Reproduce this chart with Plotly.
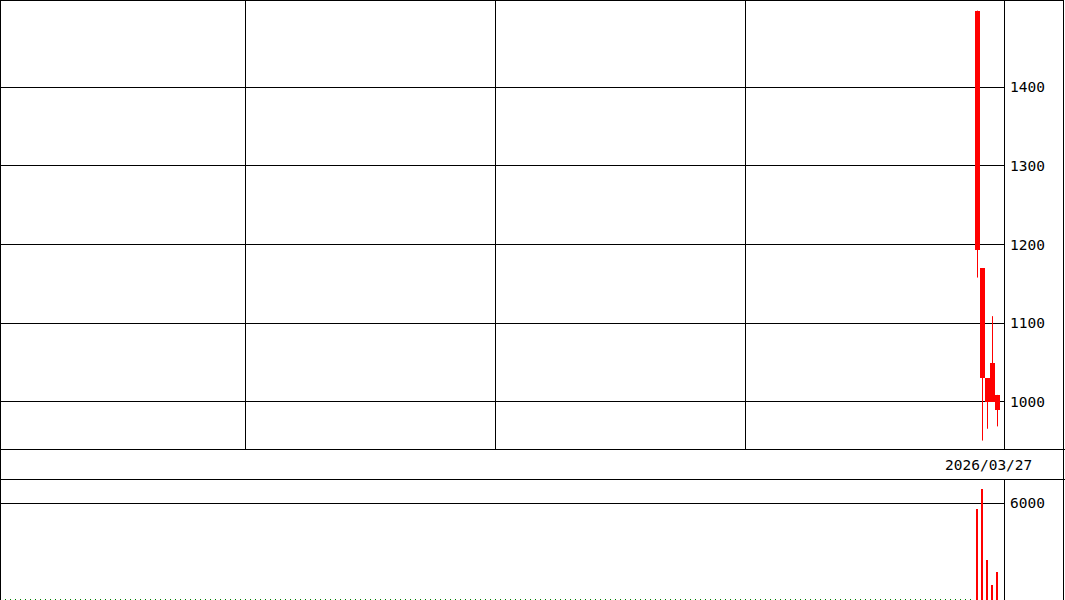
import plotly.graph_objects as go

# daily candles (last 5 sessions of a ~200 session window)
day_index = [195, 196, 197, 198, 199]
price_open = [1497, 1170, 1030, 1000, 1009]
price_high = [1497, 1170, 1030, 1109, 1009]
price_low = [1158, 951, 966, 1000, 969]
price_close = [1193, 1030, 1000, 1049, 990]
volume = [5630, 6870, 2470, 930, 1730]

# volume average: flat at zero before the first session
vol_avg_days = [-0.5, 194.5]
vol_avg = [0, 0]

month_breaks = [48.5, 98.5, 148.5]
price_ticks = [1000, 1100, 1200, 1300, 1400]
volume_ticks = [6000]
last_date = "2026/03/27"

W, H = 1065, 600
RED = "rgb(255,0,0)"
FONT = dict(family="DejaVu Sans Mono", size=14.5, color="black")

body_base = [min(o, c) for o, c in zip(price_open, price_close)]
body_size = [abs(o - c) for o, c in zip(price_open, price_close)]

wick_x, wick_y = [], []
for i, h, l in zip(day_index, price_high, price_low):
    wick_x += [i, i, None]
    wick_y += [l, h, None]

fig = go.Figure()
fig.add_trace(go.Scatter(
    x=wick_x, y=wick_y, mode="lines",
    line=dict(color=RED, width=1),
    xaxis="x", yaxis="y", showlegend=False, hoverinfo="skip",
))
fig.add_trace(go.Bar(
    x=day_index, y=body_size, base=body_base, width=0.95,
    marker=dict(color=RED, line=dict(width=0)),
    xaxis="x", yaxis="y", showlegend=False,
))
fig.add_trace(go.Scatter(
    x=vol_avg_days, y=vol_avg, mode="lines",
    line=dict(color="rgb(0,128,0)", width=2, dash="1px,4px"),
    xaxis="x2", yaxis="y2", showlegend=False, hoverinfo="skip",
))
fig.add_trace(go.Bar(
    x=day_index, y=volume, width=0.22,
    marker=dict(color=RED, line=dict(width=0)),
    xaxis="x2", yaxis="y2", showlegend=False,
))

px_x = lambda p: p / W
px_y = lambda p: 1 - p / H

xr = [-0.5, 200.5]
fig.update_layout(
    width=W, height=H,
    margin=dict(l=0, r=0, t=0, b=0),
    paper_bgcolor="white", plot_bgcolor="white",
    font=FONT, bargap=0, barmode="overlay",
    xaxis=dict(
        domain=[0, px_x(1005)], range=xr, tickvals=month_breaks,
        showticklabels=False, ticks="", showgrid=True,
        gridcolor="black", gridwidth=1, zeroline=False, showline=False,
    ),
    yaxis=dict(
        domain=[px_y(449), 1], range=[940.3, 1510.5], side="right",
        tickvals=price_ticks, ticks="", ticklabelstandoff=4,
        showgrid=True, gridcolor="black", gridwidth=1, zeroline=False,
        showline=False, tickfont=FONT,
    ),
    xaxis2=dict(
        domain=[0, px_x(1005)], range=xr, anchor="y2",
        showticklabels=False, ticks="", showgrid=False,
        zeroline=False, showline=False,
    ),
    yaxis2=dict(
        domain=[0, px_y(480)], range=[0, 7423], side="right", anchor="x2",
        tickvals=volume_ticks, ticks="", ticklabelstandoff=4,
        showgrid=True, gridcolor="black", gridwidth=1, zeroline=False,
        showline=False, tickfont=FONT,
    ),
)

line = dict(color="black", width=1)


def hline(y, x0=0.0, x1=1.0):
    return dict(type="line", xref="paper", yref="paper",
                x0=x0, x1=x1, y0=px_y(y), y1=px_y(y), line=line)


def vline(x, y0, y1):
    return dict(type="line", xref="paper", yref="paper",
                x0=px_x(x), x1=px_x(x), y0=px_y(y0), y1=px_y(y1), line=line)


fig.update_layout(shapes=[
    hline(0.5, 0, px_x(1064)),
    hline(449.5),
    hline(479.5),
    vline(0.5, 0, 600),
    vline(1063.5, 0, 600),
    vline(1004.5, 0, 449.5),
    vline(1004.5, 479.5, 600),
])

fig.add_annotation(
    text=last_date, xref="paper", yref="paper",
    x=px_x(1034), y=px_y(465), xanchor="right", yanchor="middle",
    showarrow=False, font=FONT,
)

# drop the browser's default page margin so the chart sits at the window corner
fig.write_html(
    "out.html",
    config={"displayModeBar": False},
    post_script="document.body.style.margin='0px';",
)
